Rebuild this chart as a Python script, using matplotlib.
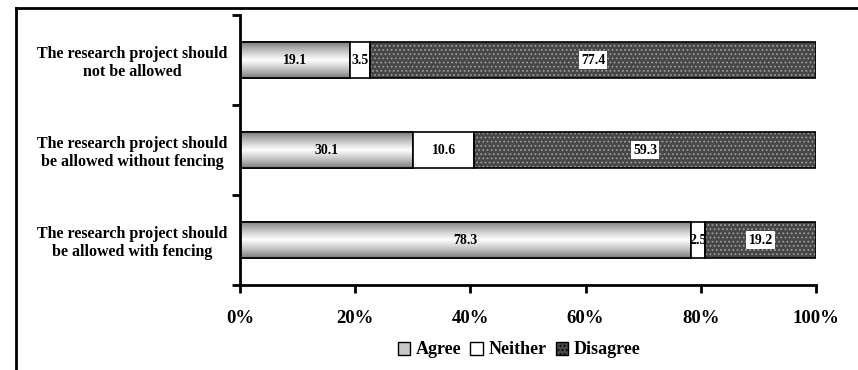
import numpy as np
import matplotlib.pyplot as plt
from matplotlib.patches import Patch
from matplotlib.lines import Line2D

statements = ["The research project should\nnot be allowed",
              "The research project should\nbe allowed without fencing",
              "The research project should\nbe allowed with fencing"]
agree = [19.1, 30.1, 78.3]
neither = [3.5, 10.6, 2.5]
disagree = [77.4, 59.3, 19.2]
x_ticks = [0, 20, 40, 60, 80, 100]

plt.rcParams['font.family'] = ['Liberation Serif', 'DejaVu Serif']
plt.rcParams['font.weight'] = 'bold'
plt.rcParams['hatch.linewidth'] = 0.8

fig = plt.figure(figsize=(8.58, 3.70), dpi=100)
ax = fig.add_axes([240 / 858, 1 - 285 / 370, 576 / 858, 270 / 370])

y = np.arange(len(statements))
h = 0.4
left_n = np.array(agree)
left_d = left_n + np.array(neither)

# agree bars: gradient fill clipped to the bar shape
bars_a = ax.barh(y, agree, height=h, color='#d0d0d0', edgecolor='black', linewidth=1.2, zorder=2)
grad = np.concatenate([np.linspace(0.3, 0.97, 20), np.linspace(0.97, 0.3, 20)]) ** 0.6
grad = grad.reshape(-1, 1)
for b in bars_a:
    x0, y0, w, hh = b.get_x(), b.get_y(), b.get_width(), b.get_height()
    im = ax.imshow(grad, cmap='gray', vmin=0, vmax=1, aspect='auto',
                   extent=(x0, x0 + w, y0 + hh, y0), zorder=2.5, interpolation='bilinear')
    im.set_clip_path(b)
ax.barh(y, agree, height=h, fill=False, edgecolor='black', linewidth=1.2, zorder=3)

ax.barh(y, neither, left=left_n, height=h, color='white', edgecolor='black', linewidth=1.2, zorder=3)

ax.barh(y, disagree, left=left_d, height=h, color='#474747', edgecolor='#9c9c9c',
        hatch='....', linewidth=0, zorder=2)
ax.barh(y, disagree, left=left_d, height=h, fill=False, edgecolor='black', linewidth=1.2, zorder=3)

for i in range(len(statements)):
    ax.text(agree[i] / 2, y[i], f"{agree[i]:.1f}", ha='center', va='center', fontsize=10, zorder=5)
    ax.text(left_n[i] + neither[i] / 2, y[i], f"{neither[i]:.1f}", ha='center', va='center',
            fontsize=10, zorder=5)
    ax.text(left_d[i] + disagree[i] / 2, y[i], f"{disagree[i]:.1f}", ha='center', va='center',
            fontsize=10, zorder=5,
            bbox=dict(boxstyle='square,pad=0.15', facecolor='white', edgecolor='none'))

ax.set_xlim(0, 100)
ax.set_ylim(2.5, -0.5)
ax.set_xticks(x_ticks)
ax.set_xticklabels([f"{t}%" for t in x_ticks], fontsize=13.5)
ax.set_yticks(y)
ax.set_yticklabels(statements, fontsize=11.5, multialignment='center')
ax.set_yticks([-0.5, 0.5, 1.5, 2.5], minor=True)
ax.tick_params(axis='y', which='major', length=0, pad=9)
ax.tick_params(axis='y', which='minor', length=6, width=2, direction='out')
ax.tick_params(axis='x', length=6, width=2, direction='out', pad=12)
for s in ['top', 'right']:
    ax.spines[s].set_visible(False)
for s in ['left', 'bottom']:
    ax.spines[s].set_linewidth(2)

handles = [Patch(facecolor='#c8c8c8', edgecolor='black', label='Agree'),
           Patch(facecolor='white', edgecolor='black', label='Neither'),
           Patch(facecolor='#474747', edgecolor='black', hatch='....', label='Disagree')]
fig.legend(handles=handles, loc='center', bbox_to_anchor=(519 / 858, 1 - 350 / 370), ncol=3,
           frameon=False, fontsize=13, handlelength=0.7, handleheight=0.7,
           handletextpad=0.3, columnspacing=0.5)

# outer frame: left and top edges
fig.add_artist(Line2D([16 / 858, 16 / 858], [0, 1 - 8 / 370], color='black', lw=2,
                      transform=fig.transFigure))
fig.add_artist(Line2D([16 / 858, 1], [1 - 8 / 370, 1 - 8 / 370], color='black', lw=2,
                      transform=fig.transFigure))

fig.savefig('out.png', dpi=100)
